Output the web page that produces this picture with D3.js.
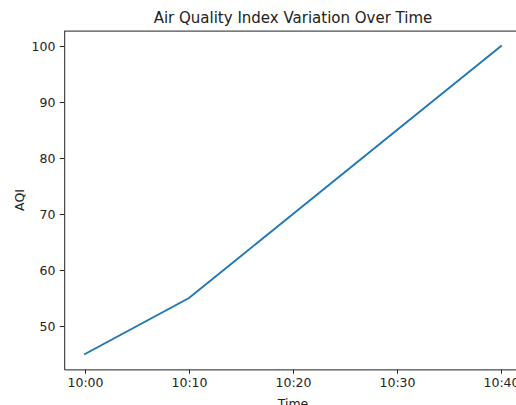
<!DOCTYPE html>
<html>
<head>
<meta charset="utf-8">
<script src="https://cdn.jsdelivr.net/npm/d3@7"></script>
<style>
  body { margin: 0; background: #fff; }
  svg { display: block; font-family: "DejaVu Sans", sans-serif; }
</style>
</head>
<body>
<div class="plot"></div>
<script>
// data
const times = ["10:00", "10:10", "10:20", "10:30", "10:40"];
const aqi = [45, 55, 70, 85, 100];
const yTicks = [50, 60, 70, 80, 90, 100];

const W = 516, H = 405;
const margin = {top: 30.6, left: 64.2};
const w = 457.6, h = 338.8;

const parse = d3.timeParse("%H:%M");
const data = times.map((t, i) => ({t: parse(t), v: aqi[i]}));

const svg = d3.select(".plot")
  .append("svg")
    .attr("width", W)
    .attr("height", H);

const g = svg.append("g")
  .attr("transform", "translate(" + margin.left + "," + margin.top + ")");

// matplotlib style 5% margins on both axes
const t0 = data[0].t, t1 = data[data.length - 1].t;
const pad = (t1 - t0) * 0.05;
const x = d3.scaleTime()
  .domain([new Date(+t0 - pad), new Date(+t1 + pad)])
  .range([0, w]);

const vmin = d3.min(aqi), vmax = d3.max(aqi);
const ypad = (vmax - vmin) * 0.05;
const y = d3.scaleLinear()
  .domain([vmin - ypad, vmax + ypad])
  .range([h, 0]);

// x axis
const xAxis = g.append("g")
  .attr("transform", "translate(0," + h + ")")
  .call(d3.axisBottom(x)
    .tickValues(data.map(d => d.t))
    .tickFormat(d3.timeFormat("%H:%M"))
    .tickSize(4.4)
    .tickSizeOuter(0)
    .tickPadding(4.4));

// y axis
const yAxis = g.append("g")
  .call(d3.axisLeft(y)
    .tickValues(yTicks)
    .tickSize(4.4)
    .tickSizeOuter(0)
    .tickPadding(4.4));

[xAxis, yAxis].forEach(a => {
  a.select(".domain").attr("stroke", "#222").attr("stroke-width", 1);
  a.selectAll(".tick line").attr("stroke", "#222").attr("stroke-width", 1);
  a.selectAll(".tick text")
    .attr("fill", "#222")
    .style("font-size", "12.5px")
    .style("font-family", "DejaVu Sans");
});

// top spine (right spine is beyond the window)
g.append("line")
  .attr("x1", 0).attr("x2", w)
  .attr("y1", 0.5).attr("y2", 0.5)
  .attr("stroke", "#222").attr("stroke-width", 1);
g.append("line")
  .attr("x1", w).attr("x2", w)
  .attr("y1", 0).attr("y2", h)
  .attr("stroke", "#222").attr("stroke-width", 1);

// the line
g.append("path")
  .datum(data)
  .attr("fill", "none")
  .attr("stroke", "#1f77b4")
  .attr("stroke-width", 1.9)
  .attr("stroke-linecap", "square")
  .attr("d", d3.line().x(d => x(d.t)).y(d => y(d.v)));

// title and axis labels
svg.append("text")
  .attr("x", margin.left + w / 2)
  .attr("y", 23)
  .attr("text-anchor", "middle")
  .style("font-size", "15px")
  .attr("fill", "#222")
  .text("Air Quality Index Variation Over Time");

svg.append("text")
  .attr("x", margin.left + w / 2)
  .attr("y", 408)
  .attr("text-anchor", "middle")
  .style("font-size", "12.5px")
  .attr("fill", "#222")
  .text("Time");

svg.append("text")
  .attr("transform", "translate(24," + (margin.top + h / 2) + ") rotate(-90)")
  .attr("text-anchor", "middle")
  .style("font-size", "12.5px")
  .attr("fill", "#222")
  .text("AQI");
</script>
</body>
</html>
